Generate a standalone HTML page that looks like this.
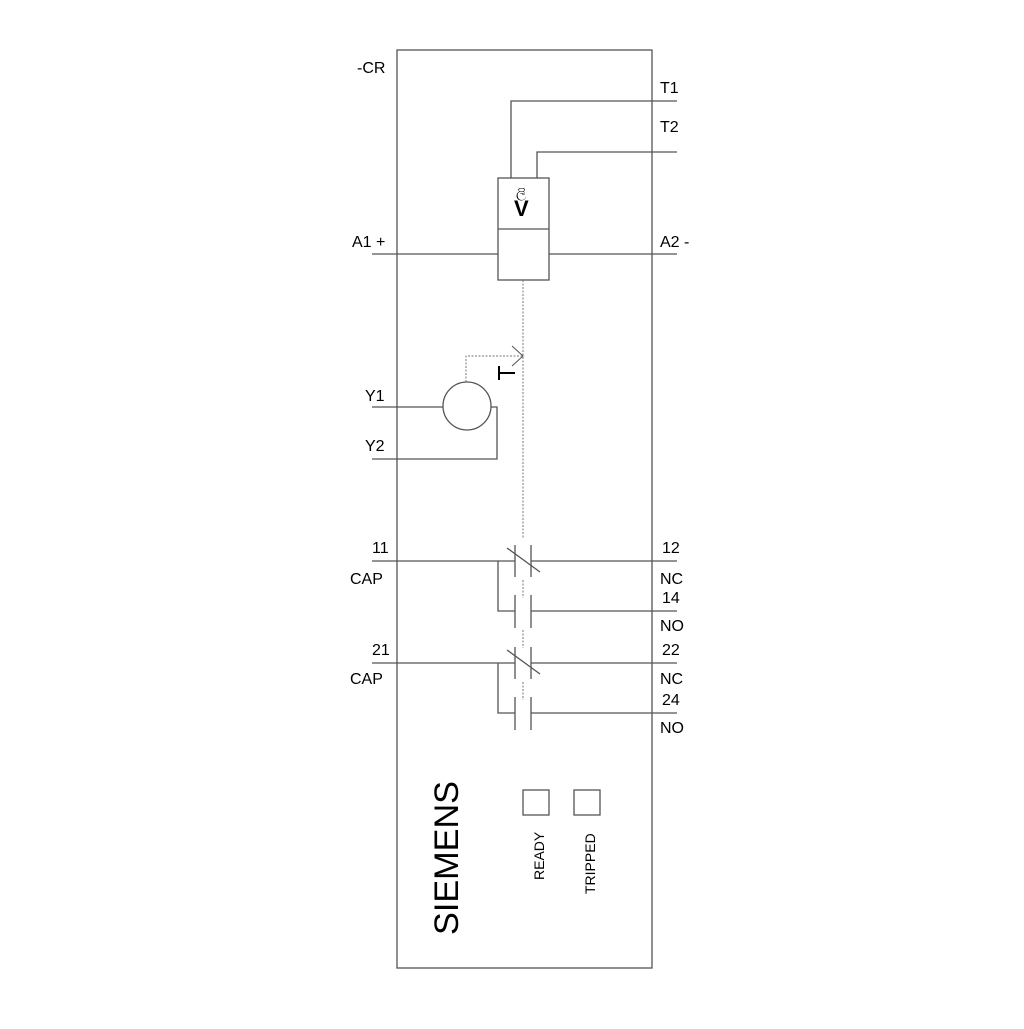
<!DOCTYPE html>
<html><head><meta charset="utf-8"><style>html,body{margin:0;padding:0;background:#fff}</style></head>
<body>
<svg width="1024" height="1024" viewBox="0 0 1024 1024" xmlns="http://www.w3.org/2000/svg" font-family="Liberation Sans, sans-serif">
<g fill="none" stroke="#555" stroke-width="1.3">
<rect x="397" y="50" width="255" height="918"/>
<polyline points="511,178 511,101 677,101"/>
<polyline points="537,178 537,152 677,152"/>
<rect x="498" y="178" width="51" height="102"/>
<line x1="498" y1="229" x2="549" y2="229"/>
<line x1="372" y1="254" x2="498" y2="254"/>
<line x1="549" y1="254" x2="677" y2="254"/>
<circle cx="467" cy="406" r="24"/>
<line x1="372" y1="407" x2="443" y2="407"/>
<polyline points="491,407 497,407 497,459 372,459"/>
<polyline points="512,346 523,356 512,366" stroke-width="1"/>
</g>
<g fill="none" stroke="#777" stroke-width="1" stroke-dasharray="2,1.5">
<line x1="523" y1="280" x2="523" y2="538"/>
<polyline points="466,382 466,356 523,356"/>
<line x1="523" y1="580" x2="523" y2="598"/>
<line x1="523" y1="630" x2="523" y2="648"/>
<line x1="523" y1="682" x2="523" y2="700"/>
</g>
<g stroke="#000" stroke-width="2">
<line x1="499" y1="366" x2="499" y2="380"/>
<line x1="499" y1="373" x2="515" y2="373"/>
</g>
<g fill="none" stroke="#555" stroke-width="1.3">
<line x1="372" y1="561" x2="515" y2="561"/><line x1="531" y1="561" x2="677" y2="561"/>
<line x1="515" y1="545" x2="515" y2="577"/><line x1="531" y1="545" x2="531" y2="577"/>
<line x1="507" y1="548" x2="540" y2="572"/>
<polyline points="498,561 498,611 515,611"/><line x1="531" y1="611" x2="677" y2="611"/>
<line x1="515" y1="595" x2="515" y2="628"/><line x1="531" y1="595" x2="531" y2="628"/>
<line x1="372" y1="663" x2="515" y2="663"/><line x1="531" y1="663" x2="677" y2="663"/>
<line x1="515" y1="647" x2="515" y2="679"/><line x1="531" y1="647" x2="531" y2="679"/>
<line x1="507" y1="650" x2="540" y2="674"/>
<polyline points="498,663 498,713 515,713"/><line x1="531" y1="713" x2="677" y2="713"/>
<line x1="515" y1="697" x2="515" y2="730"/><line x1="531" y1="697" x2="531" y2="730"/>
<rect x="523" y="790" width="26" height="25"/>
<rect x="574" y="790" width="26" height="25"/>
</g>
<g font-size="16" fill="#000">
<text x="357" y="73">-CR</text>
<text x="660" y="93">T1</text>
<text x="660" y="132">T2</text>
<text x="352" y="247">A1 +</text>
<text x="660" y="247">A2 -</text>
<text x="365" y="401">Y1</text>
<text x="365" y="451">Y2</text>
<text x="372" y="553">11</text>
<text x="350" y="584">CAP</text>
<text x="662" y="553">12</text>
<text x="660" y="584">NC</text>
<text x="662" y="603">14</text>
<text x="660" y="631">NO</text>
<text x="372" y="655">21</text>
<text x="350" y="684">CAP</text>
<text x="662" y="655">22</text>
<text x="660" y="684">NC</text>
<text x="662" y="705">24</text>
<text x="660" y="733">NO</text>
<text x="514" y="216" font-size="22" font-weight="bold">V</text>
<text x="516" y="197" font-size="13">ලි</text>
<text transform="translate(458,935) rotate(-90)" font-size="34" textLength="154" lengthAdjust="spacingAndGlyphs">SIEMENS</text>
<text transform="translate(544,880) rotate(-90)" font-size="14">READY</text>
<text transform="translate(595,894) rotate(-90)" font-size="14">TRIPPED</text>
</g>
</svg>
</body></html>
